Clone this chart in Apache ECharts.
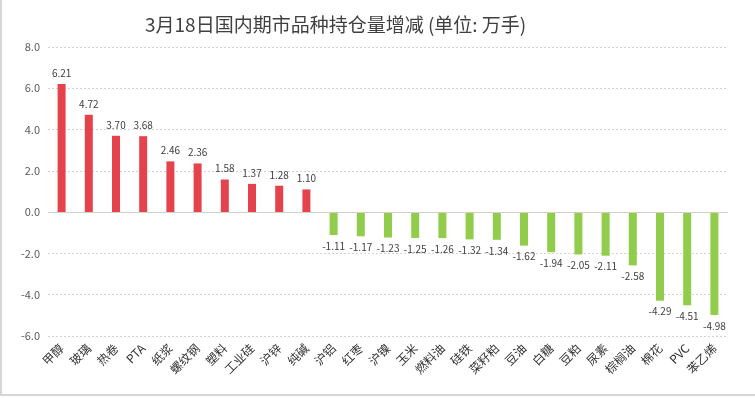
<!DOCTYPE html>
<html>
<head>
<meta charset="utf-8">
<script src="https://cdn.jsdelivr.net/npm/echarts@6/dist/echarts.min.js"></script>
<style>
html, body { margin: 0; padding: 0; background: #fff; }
#chart { width: 755px; height: 398px; }
</style>
</head>
<body>
<div id="chart"></div>
<script>
var categories = ['甲醇', '玻璃', '热卷', 'PTA', '纸浆', '螺纹钢', '塑料', '工业硅', '沪锌', '纯碱',
    '沪铝', '红枣', '沪镍', '玉米', '燃料油', '硅铁', '菜籽粕', '豆油', '白糖', '豆粕',
    '尿素', '棕榈油', '棉花', 'PVC', '苯乙烯'];
var changes = [6.21, 4.72, 3.70, 3.68, 2.46, 2.36, 1.58, 1.37, 1.28, 1.10,
    -1.11, -1.17, -1.23, -1.25, -1.26, -1.32, -1.34, -1.62, -1.94, -2.05,
    -2.11, -2.58, -4.29, -4.51, -4.98];

var dom_chart = document.getElementById('chart');
var chart = echarts.init(dom_chart);

function bar_data(d) {
    var out = [];
    for (var i = 0; i < d.length; i++) {
        out.push({
            value: d[i],
            itemStyle: {color: d[i] >= 0 ? '#e4434b' : '#92cc4b'},
            label: {position: d[i] >= 0 ? 'top' : 'bottom'}
        });
    }
    return out;
}

var font = '"Noto Sans CJK SC", "Microsoft YaHei", sans-serif';

chart.setOption({
    animation: false,
    backgroundColor: '#fff',
    title: {
        text: '3月18日国内期市品种持仓量增减 (单位: 万手)',
        left: 140, top: 10,
        textStyle: {fontSize: 19, fontWeight: 'normal', color: '#404040', fontFamily: font}
    },
    grid: {left: 48, right: 27, top: 47, bottom: 62},
    xAxis: {
        type: 'category',
        data: categories,
        axisLine: {show: false, onZero: false},
        axisTick: {show: false},
        axisLabel: {rotate: 45, interval: 0, margin: 10, fontSize: 12, color: '#333', fontFamily: font}
    },
    yAxis: {
        type: 'value',
        min: -6, max: 8, interval: 2,
        axisLabel: {formatter: function (v) { return v.toFixed(1); }, fontSize: 11, color: '#595959', margin: 8, fontFamily: font},
        axisLine: {show: false},
        axisTick: {show: false},
        splitLine: {lineStyle: {color: '#d4d4d4', type: [2, 2]}}
    },
    series: [{
        type: 'bar',
        barWidth: 8,
        data: bar_data(changes),
        label: {
            show: true,
            fontSize: 10,
            color: '#404040',
            distance: 6,
            fontFamily: font,
            formatter: function (p) { return p.value.toFixed(2); }
        },
        markLine: {
            silent: true,
            symbol: 'none',
            label: {show: false},
            lineStyle: {color: '#d0d0d0', type: 'solid', width: 1},
            data: [{yAxis: 0}]
        }
    }],
    graphic: [
        {type: 'line', shape: {x1: 1, y1: 0, x2: 1, y2: 395}, style: {stroke: '#d6d6d6', lineWidth: 2}},
        {type: 'line', shape: {x1: 0, y1: 395, x2: 755, y2: 395}, style: {stroke: '#d6d6d6', lineWidth: 2}}
    ]
});
</script>
</body>
</html>
